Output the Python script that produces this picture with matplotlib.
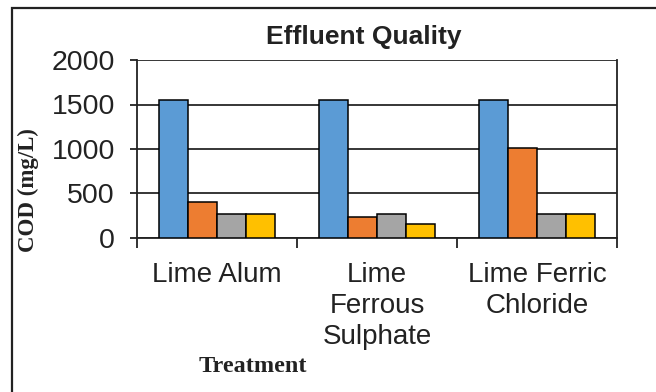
import matplotlib
matplotlib.use("Agg")
import matplotlib.pyplot as plt
import numpy as np
from matplotlib.patches import Rectangle

categories = ["Lime Alum", "Lime\nFerrous\nSulphate", "Lime Ferric\nChloride"]
series_blue = [1550, 1550, 1550]
series_orange = [400, 240, 1015]
series_gray = [266, 266, 266]
series_yellow = [266, 155, 266]
y_ticks = [0, 500, 1000, 1500, 2000]

colors = ["#5B9BD5", "#ED7D31", "#A5A5A5", "#FFC000"]
series = [series_blue, series_orange, series_gray, series_yellow]

W, H = 656, 392
fig = plt.figure(figsize=(W / 100, H / 100), dpi=100)
fig.patch.set_facecolor("white")

ax = fig.add_axes([137 / W, 1 - 238 / H, (617 - 137) / W, (238 - 60) / H])
x = np.arange(len(categories))
bw = 0.18
for i, (vals, c) in enumerate(zip(series, colors)):
    ax.bar(x + (i - 1.5) * bw, vals, width=bw, color=c, edgecolor="black",
           linewidth=1.1, zorder=3)

ax.set_xlim(-0.5, len(categories) - 0.5)
ax.set_ylim(0, 2000)
ax.set_yticks(y_ticks)
ax.set_yticklabels([str(v) for v in y_ticks], fontsize=20.5, family="Liberation Sans",
                   color="#222222")
ax.yaxis.grid(True, color="black", linewidth=1.1, zorder=0)
ax.set_axisbelow(True)

ax.set_xticks(np.arange(-0.5, len(categories), 1.0))
ax.set_xticklabels([])
ax.set_xticks(x, minor=True)
ax.set_xticklabels(categories, minor=True, fontsize=20, family="Liberation Sans",
                   color="#222222", linespacing=1.25)
ax.tick_params(axis="x", which="major", length=7, width=1.3, direction="out", color="#222222")
ax.tick_params(axis="x", which="minor", length=0, pad=17)
ax.tick_params(axis="y", length=5, width=1.3, direction="out", pad=11, color="#222222")

for s in ["left", "bottom", "right", "top"]:
    ax.spines[s].set_color("#222222")
    ax.spines[s].set_linewidth(1.3)
ax.spines["top"].set_visible(False)

fig.text(364 / W, 1 - 37 / H, "Effluent Quality", ha="center", va="center",
         fontsize=19, fontweight="bold", family="Liberation Sans", color="#222222")
fig.text(28 / W, 1 - 190 / H, "COD (mg/L)", ha="center", va="center", rotation=90,
         fontsize=16.5, fontweight="bold", family="Liberation Serif", color="#222222")
fig.text(253 / W, 1 - 367 / H, "Treatment", ha="center", va="center",
         fontsize=17.5, fontweight="bold", family="Liberation Serif", color="#222222")

fig.add_artist(Rectangle((12 / W, -0.1), 1.2, 1.1 - 8 / H, transform=fig.transFigure,
                         fill=False, edgecolor="#222222", linewidth=1.6))

fig.savefig("out.png", dpi=100)
